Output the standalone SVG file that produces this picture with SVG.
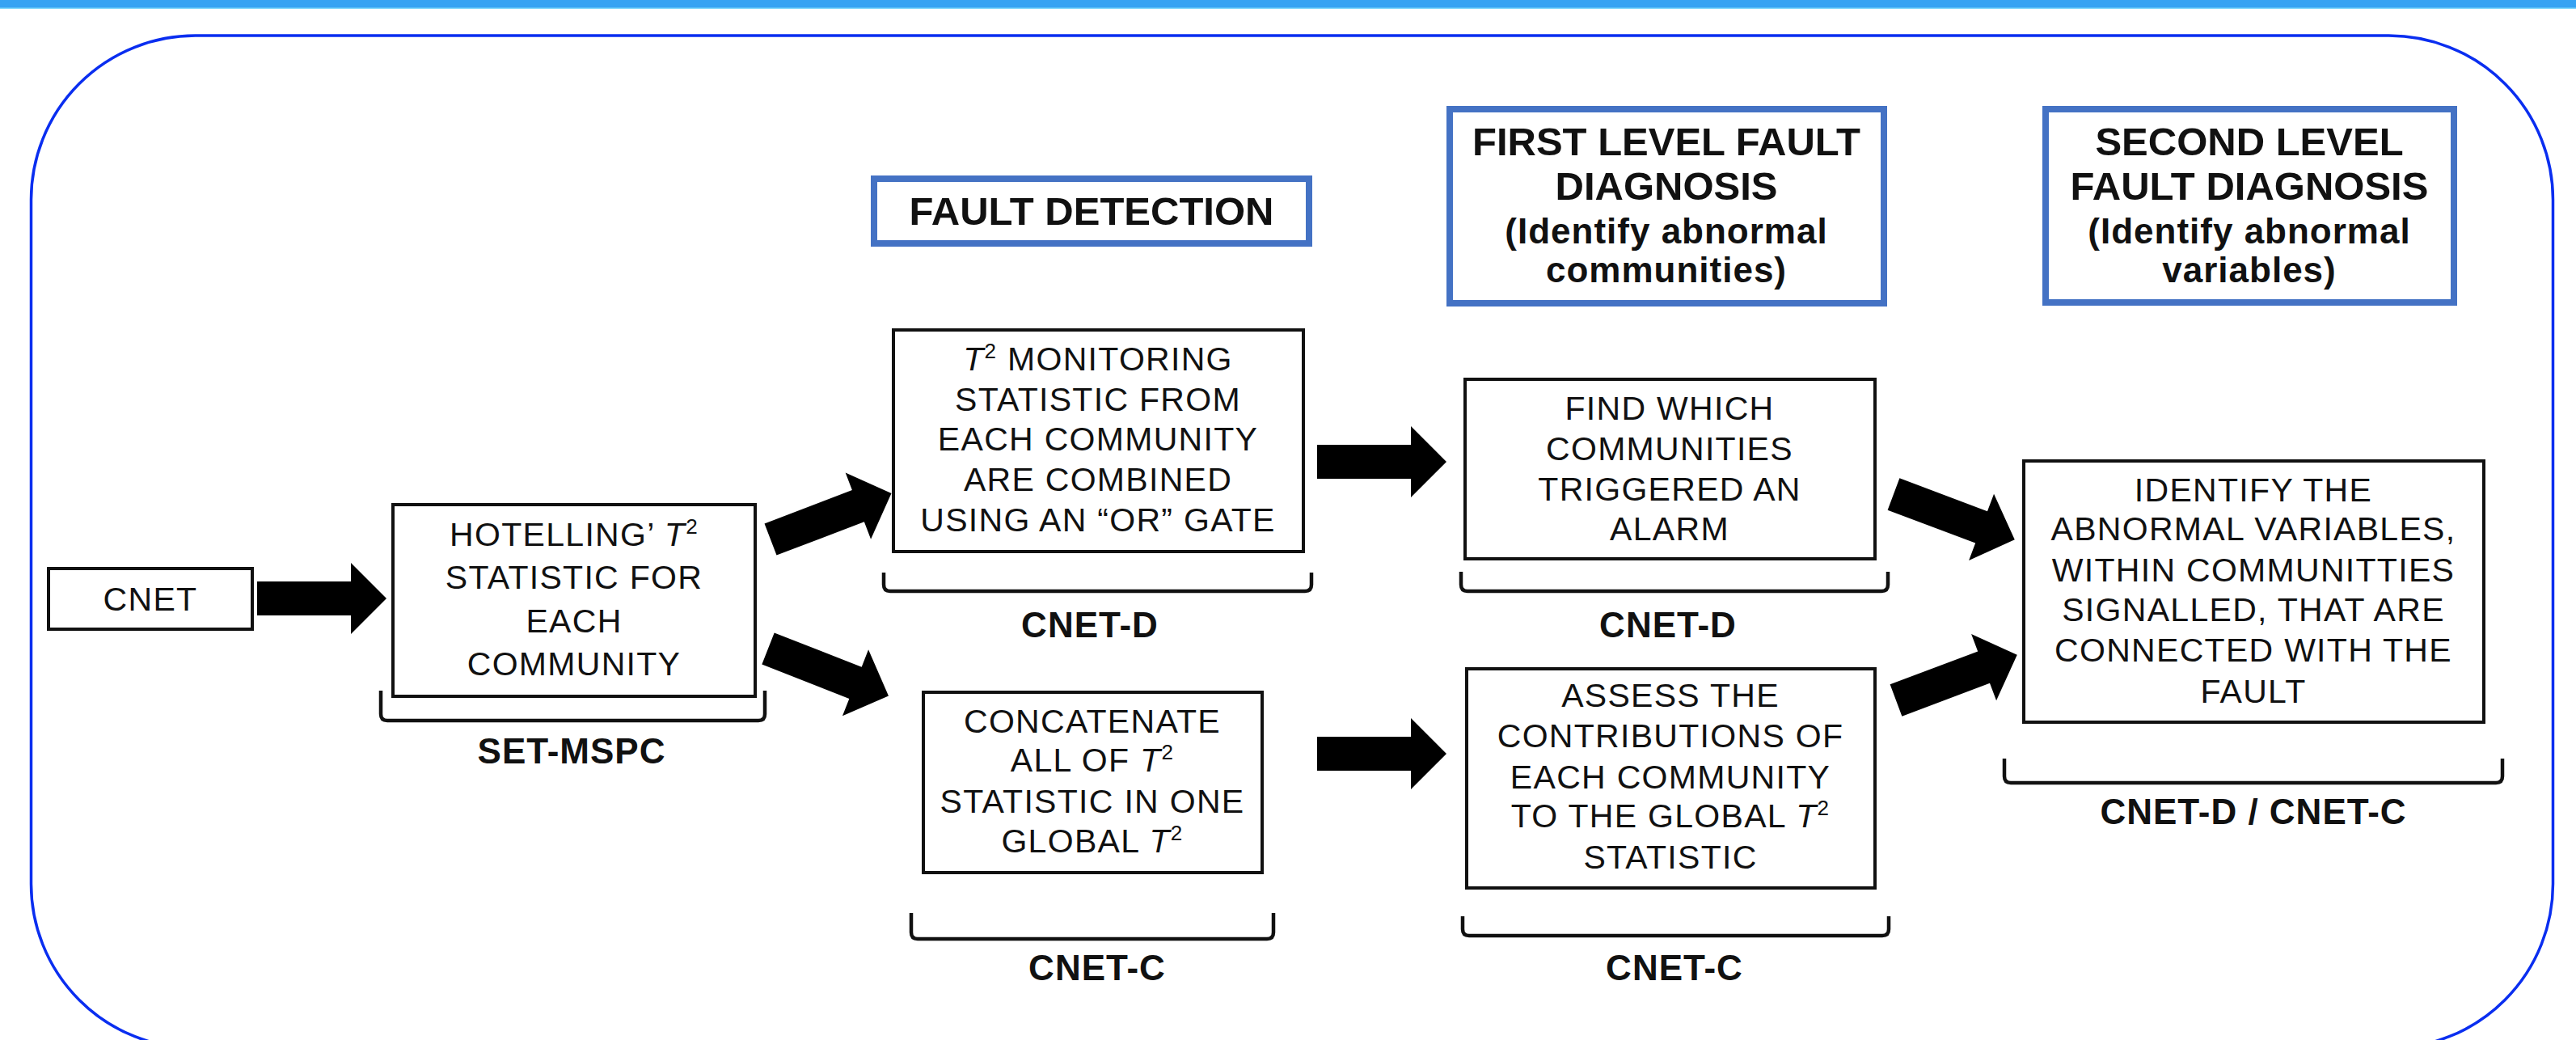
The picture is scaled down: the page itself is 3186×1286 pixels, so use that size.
<svg xmlns="http://www.w3.org/2000/svg" xmlns:xlink="http://www.w3.org/1999/xlink" width="3186" height="1286" viewBox="0 0 3186 1286">
<style>
.box{fill:#fff;stroke:#111;stroke-width:4}
.hdr{fill:#fff;stroke:#4472c4;stroke-width:8}
.brk{fill:none;stroke:#111;stroke-width:4.5;stroke-linejoin:round}
.t{font-family:"Liberation Sans",Arial,sans-serif;font-size:41px;letter-spacing:1.3px;fill:#111;text-anchor:middle}
.b{font-family:"Liberation Sans",Arial,sans-serif;font-weight:bold;font-size:49px;fill:#111;text-anchor:middle}
.bs{font-family:"Liberation Sans",Arial,sans-serif;font-weight:bold;font-size:44px;letter-spacing:1px;fill:#111;text-anchor:middle}
.lab{font-family:"Liberation Sans",Arial,sans-serif;font-weight:bold;font-size:44px;letter-spacing:1px;fill:#111;text-anchor:middle}
.i{font-style:italic}
.sup{font-size:26px}
</style>
<defs>
<path id="arrow" d="M0,-21 L116,-21 L116,-44 L160,0 L116,44 L116,21 L0,21 Z" fill="#000"/>
</defs>
<rect x="0" y="0" width="3186" height="10" fill="#36a3f3"/>
<rect x="0" y="9.5" width="3186" height="1.5" fill="#7fd8fb"/>
<rect id="frame" x="38.5" y="44" width="3119" height="1252" rx="203" ry="203" fill="none" stroke="#0a2ef0" stroke-width="3.5"/>

<g id="connectors">
<use xlink:href="#arrow" transform="translate(318,740)"/>
<use xlink:href="#arrow" transform="translate(953,667) rotate(-20.9)"/>
<use xlink:href="#arrow" transform="translate(950,802) rotate(21.4)"/>
<use xlink:href="#arrow" transform="translate(1629,571)"/>
<use xlink:href="#arrow" transform="translate(1629,932)"/>
<use xlink:href="#arrow" transform="translate(2342,611) rotate(20.6)"/>
<use xlink:href="#arrow" transform="translate(2345,866) rotate(-20.6)"/>
</g>

<g id="hdr-fault-detection">
<rect class="hdr" x="1081" y="221" width="538" height="80"/>
<text class="b" x="1350" y="278">FAULT DETECTION</text>
</g>
<g id="hdr-first-level">
<rect class="hdr" x="1793" y="135" width="537" height="240"/>
<text class="b" x="2061" y="192">FIRST LEVEL FAULT</text>
<text class="b" x="2061" y="247">DIAGNOSIS</text>
<text class="bs" x="2061" y="301">(Identify abnormal</text>
<text class="bs" x="2061" y="349">communities)</text>
</g>
<g id="hdr-second-level">
<rect class="hdr" x="2530" y="135" width="505" height="239"/>
<text class="b" x="2782" y="192">SECOND LEVEL</text>
<text class="b" x="2782" y="247">FAULT DIAGNOSIS</text>
<text class="bs" x="2782" y="301">(Identify abnormal</text>
<text class="bs" x="2782" y="349">variables)</text>
</g>

<g id="cnet">
<rect class="box" x="60" y="703" width="252" height="75"/>
<text class="t" x="186" y="755">CNET</text>
</g>

<g id="hotelling">
<rect class="box" x="486" y="624" width="448" height="237"/>
<text class="t" x="710" y="675">HOTELLING’ <tspan class="i">T</tspan><tspan class="sup" dy="-15">2</tspan></text>
<text class="t" x="710" y="728">STATISTIC FOR</text>
<text class="t" x="710" y="782">EACH</text>
<text class="t" x="710" y="835">COMMUNITY</text>
<path class="brk" d="M471,854 V883 Q471,891 479,891 H938 Q946,891 946,883 V854"/>
<text class="lab" x="707" y="944">SET-MSPC</text>
</g>

<g id="t2-monitoring">
<rect class="box" x="1105" y="408" width="507" height="274"/>
<text class="t" x="1358" y="458"><tspan class="i">T</tspan><tspan class="sup" dy="-15">2</tspan><tspan dy="15"> MONITORING</tspan></text>
<text class="t" x="1358" y="508">STATISTIC FROM</text>
<text class="t" x="1358" y="557">EACH COMMUNITY</text>
<text class="t" x="1358" y="607">ARE COMBINED</text>
<text class="t" x="1358" y="657">USING AN “OR” GATE</text>
<path class="brk" d="M1093,708 V723 Q1093,731 1101,731 H1614 Q1622,731 1622,723 V708"/>
<text class="lab" x="1348" y="788">CNET-D</text>
</g>

<g id="concatenate">
<rect class="box" x="1142" y="856" width="419" height="223"/>
<text class="t" x="1351" y="906">CONCATENATE</text>
<text class="t" x="1351" y="954">ALL OF <tspan class="i">T</tspan><tspan class="sup" dy="-15">2</tspan></text>
<text class="t" x="1351" y="1005">STATISTIC IN ONE</text>
<text class="t" x="1351" y="1054">GLOBAL <tspan class="i">T</tspan><tspan class="sup" dy="-15">2</tspan></text>
<path class="brk" d="M1127,1129 V1153 Q1127,1161 1135,1161 H1567 Q1575,1161 1575,1153 V1129"/>
<text class="lab" x="1357" y="1212">CNET-C</text>
</g>

<g id="find-which">
<rect class="box" x="1812" y="469" width="507" height="222"/>
<text class="t" x="2065" y="519">FIND WHICH</text>
<text class="t" x="2065" y="569">COMMUNITIES</text>
<text class="t" x="2065" y="619">TRIGGERED AN</text>
<text class="t" x="2065" y="668">ALARM</text>
<path class="brk" d="M1807,707 V723 Q1807,731 1815,731 H2327 Q2335,731 2335,723 V707"/>
<text class="lab" x="2063" y="788">CNET-D</text>
</g>

<g id="assess">
<rect class="box" x="1814" y="827" width="505" height="271"/>
<text class="t" x="2066" y="874">ASSESS THE</text>
<text class="t" x="2066" y="924">CONTRIBUTIONS OF</text>
<text class="t" x="2066" y="975">EACH COMMUNITY</text>
<text class="t" x="2066" y="1023">TO THE GLOBAL <tspan class="i">T</tspan><tspan class="sup" dy="-15">2</tspan></text>
<text class="t" x="2066" y="1074">STATISTIC</text>
<path class="brk" d="M1809,1133 V1149 Q1809,1157 1817,1157 H2328 Q2336,1157 2336,1149 V1133"/>
<text class="lab" x="2071" y="1212">CNET-C</text>
</g>

<g id="identify">
<rect class="box" x="2503" y="570" width="569" height="323"/>
<text class="t" x="2787" y="620">IDENTIFY THE</text>
<text class="t" x="2787" y="668">ABNORMAL VARIABLES,</text>
<text class="t" x="2787" y="719">WITHIN COMMUNITTIES</text>
<text class="t" x="2787" y="768">SIGNALLED, THAT ARE</text>
<text class="t" x="2787" y="818">CONNECTED WITH THE</text>
<text class="t" x="2787" y="869">FAULT</text>
<path class="brk" d="M2479,938 V960 Q2479,968 2487,968 H3087 Q3095,968 3095,960 V938"/>
<text class="lab" x="2787" y="1019">CNET-D / CNET-C</text>
</g>
</svg>
